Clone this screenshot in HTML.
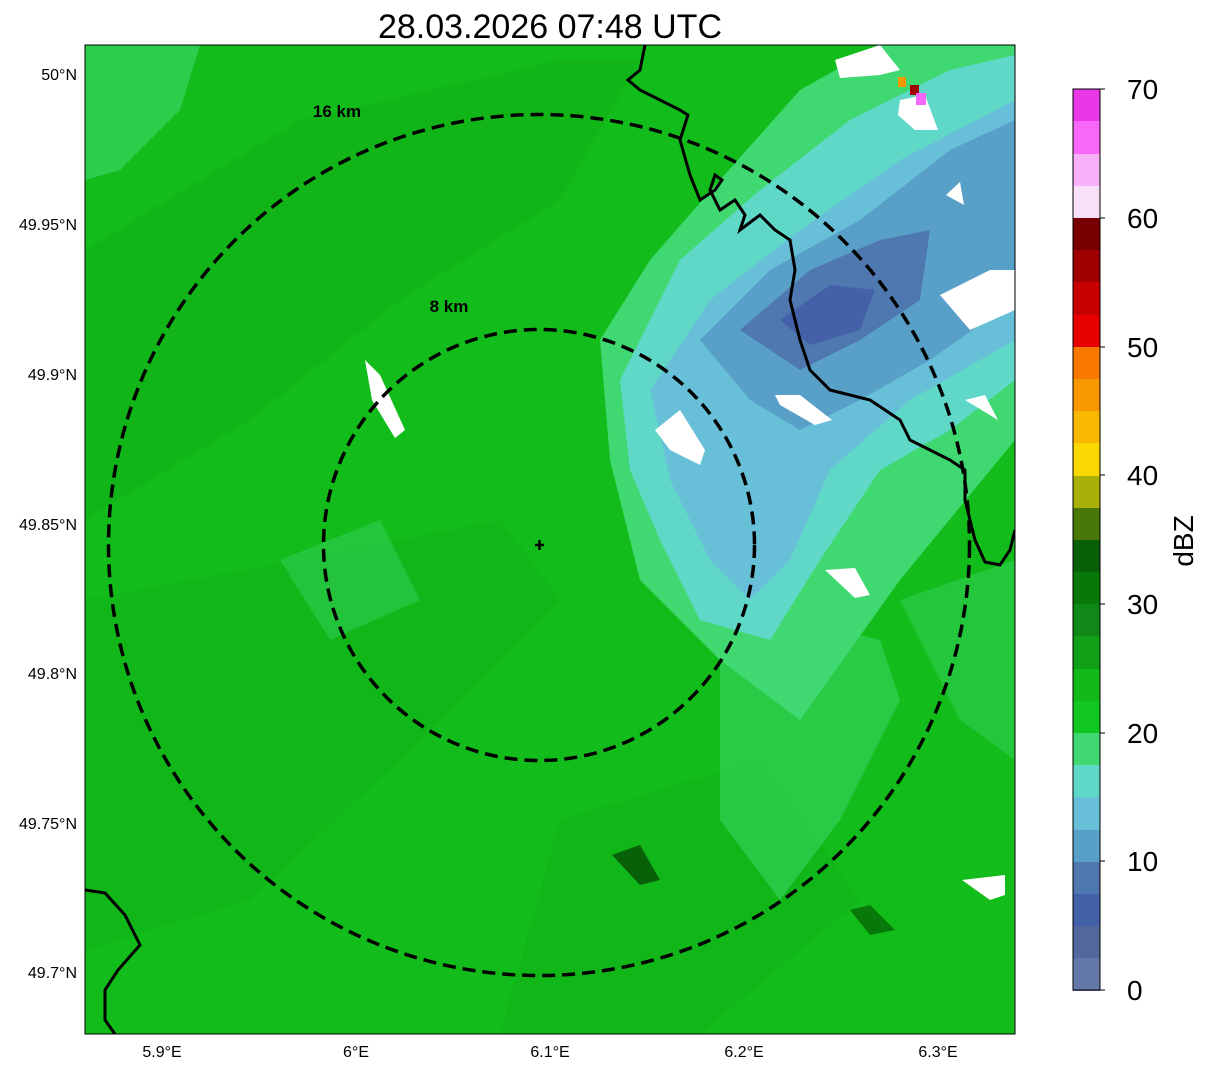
<!DOCTYPE html>
<html><head><meta charset="utf-8"><style>
body{margin:0;background:#fff;width:1207px;height:1069px;overflow:hidden;font-family:"Liberation Sans",sans-serif}
</style></head><body>
<svg width="1207" height="1069" xmlns="http://www.w3.org/2000/svg" font-family="Liberation Sans, sans-serif">
<defs><clipPath id="c"><rect x="85" y="45" width="930" height="989"/></clipPath></defs>
<g clip-path="url(#c)">
<rect x="85" y="45" width="930" height="989" fill="#12bc1a"/>
<polygon points="85,250 300,120 560,60 640,60 560,200 400,300 250,420 85,520" fill="#10b018" opacity="0.6"/>
<polygon points="85,600 300,560 500,520 560,600 400,760 250,900 85,950" fill="#10b018" opacity="0.5"/>
<polygon points="560,820 760,760 860,900 700,1034 500,1034" fill="#10b018" opacity="0.5"/>
<polygon points="85,45 200,45 180,110 120,170 85,180" fill="#40d870" opacity="0.6"/>
<polygon points="280,560 380,520 420,600 330,640" fill="#40d870" opacity="0.4"/>
<polygon points="720,650 800,620 880,640 900,700 840,820 780,900 720,820" fill="#40d870" opacity="0.5"/>
<polygon points="900,600 1015,560 1015,760 960,720" fill="#40d870" opacity="0.4"/>
<polygon points="600,340 650,260 720,180 800,90 880,45 1015,45 1015,440 900,580 800,720 720,660 640,580 610,460" fill="#40d870"/>
<polygon points="620,380 680,260 760,190 850,120 950,70 1015,55 1015,380 950,430 880,470 820,560 770,640 700,620 660,540 630,470" fill="#60d8c8"/>
<polygon points="650,390 710,300 800,230 900,160 1015,100 1015,340 910,400 830,470 790,560 750,600 710,560 670,480" fill="#68c0d8"/>
<polygon points="700,340 770,270 860,220 950,150 1015,120 1015,300 930,360 860,400 800,430 750,400" fill="#58a0c8"/>
<polygon points="740,330 810,270 880,240 930,230 920,300 860,340 800,370" fill="#5078b0"/>
<polygon points="780,320 830,285 875,290 860,330 810,345" fill="#4460a8"/>
<polygon points="835,60 880,45 900,70 880,75 840,78" fill="#fff"/>
<polygon points="900,100 925,95 938,130 915,130 898,115" fill="#fff"/>
<rect x="898" y="77" width="8" height="10" fill="#f89800"/><rect x="910" y="85" width="9" height="10" fill="#a00000"/><rect x="916" y="93" width="10" height="12" fill="#f868f8"/>
<polygon points="940,295 990,270 1015,270 1015,310 970,330" fill="#fff"/>
<polygon points="946,195 960,182 964,205" fill="#fff"/>
<polygon points="965,400 985,395 998,420" fill="#fff"/>
<polygon points="775,395 800,395 832,420 815,425 780,405" fill="#fff"/>
<polygon points="655,430 680,410 705,450 700,465 670,450" fill="#fff"/>
<polygon points="825,570 855,568 870,595 855,598" fill="#fff"/>
<polygon points="365,360 380,375 405,430 395,438 372,400" fill="#fff"/>
<polygon points="962,880 1005,875 1005,895 990,900" fill="#fff"/>
<polygon points="612,855 640,845 660,880 640,885" fill="#086008"/>
<polygon points="850,910 870,905 895,930 870,935" fill="#087808"/>
<path d="M645,45 L640,70 L628,80 L640,90 L660,100 L680,110 L688,115 L680,140 L690,175 L700,200 L715,190 L722,180 L715,175 L710,190 L720,210 L735,200 L745,215 L740,230 L760,215 L775,230 L790,240 L795,270 L790,300 L800,340 L810,370 L830,390 L870,400 L900,420 L910,440 L930,450 L950,460 L965,470 L965,500 L975,540 L985,562 L1000,565 L1010,550 L1015,530" fill="none" stroke="#000" stroke-width="3"/>
<path d="M85,890 L105,893 L125,915 L140,945 L118,970 L105,990 L105,1020 L115,1034" fill="none" stroke="#000" stroke-width="3"/>
<circle cx="539" cy="545" r="215.5" fill="none" stroke="#000" stroke-width="3.5" stroke-dasharray="13,7"/>
<circle cx="539" cy="545" r="430.5" fill="none" stroke="#000" stroke-width="3.5" stroke-dasharray="13,7"/>
<path d="M535,545 h9 M539.5,540 v10" stroke="#000" stroke-width="2.5"/>
<text x="337" y="117" font-size="17" font-weight="bold" text-anchor="middle">16 km</text>
<text x="449" y="312" font-size="17" font-weight="bold" text-anchor="middle">8 km</text>
</g>
<rect x="85" y="45" width="930" height="989" fill="none" stroke="#000" stroke-width="1"/>
<text x="550" y="38" font-size="34" text-anchor="middle">28.03.2026 07:48 UTC</text>
<g font-size="16" text-anchor="end">
<text x="77" y="80">50°N</text><text x="77" y="230">49.95°N</text><text x="77" y="380">49.9°N</text>
<text x="77" y="530">49.85°N</text><text x="77" y="679">49.8°N</text><text x="77" y="829">49.75°N</text><text x="77" y="978">49.7°N</text>
</g>
<g font-size="16" text-anchor="middle">
<text x="162" y="1057">5.9°E</text><text x="356" y="1057">6°E</text><text x="550" y="1057">6.1°E</text><text x="744" y="1057">6.2°E</text><text x="938" y="1057">6.3°E</text>
</g>
<g>
<rect x="1073" y="958" width="27" height="33" fill="#6478a8"/>
<rect x="1073" y="925" width="27" height="33" fill="#5468a0"/>
<rect x="1073" y="893" width="27" height="33" fill="#4460a8"/>
<rect x="1073" y="861" width="27" height="33" fill="#5078b0"/>
<rect x="1073" y="829" width="27" height="33" fill="#58a0c8"/>
<rect x="1073" y="797" width="27" height="33" fill="#68c0d8"/>
<rect x="1073" y="764" width="27" height="33" fill="#60d8c8"/>
<rect x="1073" y="732" width="27" height="33" fill="#40d870"/>
<rect x="1073" y="700" width="27" height="33" fill="#10c820"/>
<rect x="1073" y="668" width="27" height="33" fill="#10b818"/>
<rect x="1073" y="636" width="27" height="33" fill="#10a018"/>
<rect x="1073" y="603" width="27" height="33" fill="#108818"/>
<rect x="1073" y="571" width="27" height="33" fill="#087808"/>
<rect x="1073" y="539" width="27" height="33" fill="#086008"/>
<rect x="1073" y="507" width="27" height="33" fill="#487808"/>
<rect x="1073" y="475" width="27" height="33" fill="#a8b008"/>
<rect x="1073" y="443" width="27" height="33" fill="#f8d800"/>
<rect x="1073" y="410" width="27" height="33" fill="#f8b800"/>
<rect x="1073" y="378" width="27" height="33" fill="#f89800"/>
<rect x="1073" y="346" width="27" height="33" fill="#f87800"/>
<rect x="1073" y="314" width="27" height="33" fill="#e80000"/>
<rect x="1073" y="282" width="27" height="33" fill="#c80000"/>
<rect x="1073" y="249" width="27" height="33" fill="#a00000"/>
<rect x="1073" y="217" width="27" height="33" fill="#780000"/>
<rect x="1073" y="185" width="27" height="33" fill="#f8e0f8"/>
<rect x="1073" y="153" width="27" height="33" fill="#f8b0f8"/>
<rect x="1073" y="121" width="27" height="33" fill="#f868f8"/>
<rect x="1073" y="89" width="27" height="32" fill="#e838e8"/>
<rect x="1073" y="89" width="27" height="901" fill="none" stroke="#000" stroke-width="1"/>
<g stroke="#000"><path d="M1100,990h5M1100,861h5M1100,733h5M1100,604h5M1100,475h5M1100,347h5M1100,218h5M1100,89h5"/></g>
<g font-size="28"><text x="1127" y="1000">0</text><text x="1127" y="871">10</text><text x="1127" y="743">20</text><text x="1127" y="614">30</text><text x="1127" y="485">40</text><text x="1127" y="357">50</text><text x="1127" y="228">60</text><text x="1127" y="99">70</text></g>
<text transform="translate(1193,541) rotate(-90)" font-size="28" text-anchor="middle">dBZ</text>
</g>
</svg>
</body></html>
